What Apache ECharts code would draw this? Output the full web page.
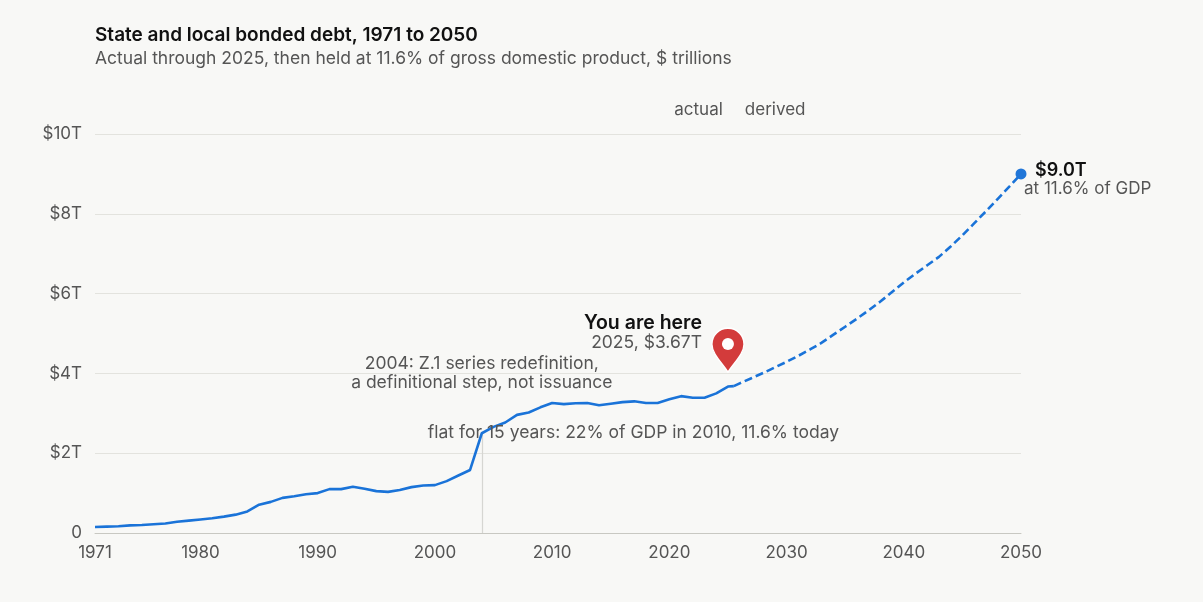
<!DOCTYPE html>
<html>
<head>
<meta charset="utf-8">
<script src="https://cdn.jsdelivr.net/npm/echarts@6/dist/echarts.min.js"></script>
<style>
  html, body { margin: 0; padding: 0; background: #f8f8f6; }
  #container { width: 1203px; height: 602px; }
</style>
</head>
<body>
<div id="container"></div>
<script>
// actual series, $ trillions (last point is mid-2025)
var actualYears = [1971, 1972, 1973, 1974, 1975, 1976, 1977, 1978, 1979, 1980,
    1981, 1982, 1983, 1984, 1985, 1986, 1987, 1988, 1989, 1990,
    1991, 1992, 1993, 1994, 1995, 1996, 1997, 1998, 1999, 2000,
    2001, 2002, 2003, 2004, 2005, 2006, 2007, 2008, 2009, 2010,
    2011, 2012, 2013, 2014, 2015, 2016, 2017, 2018, 2019, 2020,
    2021, 2022, 2023, 2024, 2025, 2025.5];
var actualValues = [0.15, 0.16, 0.17, 0.19, 0.20, 0.22, 0.24, 0.28, 0.31, 0.34,
    0.37, 0.41, 0.46, 0.54, 0.71, 0.78, 0.88, 0.92, 0.97, 1.00,
    1.10, 1.10, 1.16, 1.11, 1.05, 1.03, 1.08, 1.15, 1.19, 1.20,
    1.30, 1.44, 1.58, 2.50, 2.66, 2.77, 2.96, 3.02, 3.15, 3.26,
    3.23, 3.25, 3.26, 3.20, 3.24, 3.28, 3.30, 3.26, 3.26, 3.35,
    3.43, 3.39, 3.39, 3.50, 3.67, 3.68];

// derived: held at 11.6% of GDP
var projYears = [2025.5, 2026, 2027, 2028, 2029, 2030, 2031, 2032, 2033, 2034,
    2035, 2036, 2037, 2038, 2039, 2040, 2041, 2042, 2043, 2044,
    2045, 2046, 2047, 2048, 2049, 2050];
var projValues = [3.68, 3.75, 3.88, 4.01, 4.15, 4.29, 4.44, 4.60, 4.77, 4.97,
    5.17, 5.37, 5.58, 5.80, 6.04, 6.28, 6.50, 6.71, 6.92, 7.18,
    7.46, 7.76, 8.06, 8.37, 8.68, 9.00];

var xTicks = [1971, 1980, 1990, 2000, 2010, 2020, 2030, 2040, 2050];
var splitYear = 2025.5;
var breakYear = 2004;
var hereYear = 2025;

function pairs(xs, ys) {
    return xs.map(function (x, i) { return [x, ys[i]]; });
}

var FONT = 'Inter, "Noto Sans", sans-serif';
var BLUE = '#1a73d8';
var PIN = 'path://M15 42 C9 33 0 25 0 16 C0 7.5 6.7 1 15 1 C23.3 1 30 7.5 30 16 C30 25 21 33 15 42 Z';

var hereValue = actualValues[actualYears.indexOf(hereYear)];
var breakValue = actualValues[actualYears.indexOf(breakYear)];

var dom = document.getElementById("container");
var myChart = echarts.init(dom);

var option = {
    backgroundColor: '#f8f8f6',
    animation: false,
    textStyle: { fontFamily: FONT },
    title: {
        text: 'State and local bonded debt, 1971 to 2050',
        subtext: 'Actual through 2025, then held at 11.6% of gross domestic product, $ trillions',
        left: 90,
        top: 21,
        itemGap: 5,
        textStyle: { fontFamily: FONT, fontSize: 19, fontWeight: 600, color: '#111' },
        subtextStyle: { fontFamily: FONT, fontSize: 17.5, color: '#555' }
    },
    grid: { left: 95, right: 182, top: 134, bottom: 69 },
    xAxis: {
        type: 'value',
        min: 1971,
        max: 2050,
        axisLine: { lineStyle: { color: '#c8c8c2', width: 1 } },
        axisTick: { show: false },
        splitLine: { show: false },
        axisLabel: {
            customValues: xTicks,
            color: '#555',
            fontSize: 17,
            fontFamily: FONT,
            margin: 11,
            formatter: function (v) { return String(v); }
        }
    },
    yAxis: {
        type: 'value',
        min: 0,
        max: 10,
        interval: 2,
        axisLine: { show: false },
        axisTick: { show: false },
        splitLine: { lineStyle: { color: '#e3e3de', width: 1 } },
        axisLabel: {
            color: '#555',
            fontSize: 17,
            fontFamily: FONT,
            margin: 13,
            formatter: function (v) { return v === 0 ? '0' : '$' + v + 'T'; }
        }
    },
    series: [
        {
            name: 'actual',
            type: 'line',
            data: pairs(actualYears, actualValues),
            symbol: 'none',
            lineStyle: { color: BLUE, width: 2.6 },
            z: 5,
            markLine: {
                silent: true,
                symbol: 'none',
                label: { show: false },
                data: [
                    [{ coord: [splitYear, 0], lineStyle: { color: '#b8b8b4', type: [4, 4], width: 1.2 } },
                     { coord: [splitYear, 10.3] }],
                    [{ coord: [breakYear, 0], lineStyle: { color: '#d6d6d2', type: 'solid', width: 1.2 } },
                     { coord: [breakYear, breakValue] }]
                ]
            },
            markPoint: {
                silent: true,
                label: { show: false },
                data: [
                    {
                        coord: [hereYear, hereValue],
                        symbol: PIN,
                        symbolSize: [32, 44],
                        symbolOffset: [0, -36.5],
                        itemStyle: { color: '#d33b3b', borderColor: '#fff', borderWidth: 1.5 }
                    },
                    {
                        coord: [hereYear, hereValue],
                        symbol: 'circle',
                        symbolSize: 12,
                        symbolOffset: [0, -42.5],
                        itemStyle: { color: '#fff' }
                    }
                ]
            }
        },
        {
            name: 'derived',
            type: 'line',
            data: pairs(projYears, projValues),
            symbol: 'none',
            lineStyle: { color: BLUE, width: 2.6, type: [8, 4] },
            z: 5
        },
        {
            name: 'end',
            type: 'scatter',
            data: [[projYears[projYears.length - 1], projValues[projValues.length - 1]]],
            symbolSize: 11,
            itemStyle: { color: '#2176d8', opacity: 1 },
            z: 6
        }
    ]
};
myChart.setOption(option, true);

// annotation text placed from data coordinates
function px(x, y) { return myChart.convertToPixel({ gridIndex: 0 }, [x, y]); }
function txt(p, dx, dy, text, size, color, align, weight) {
    return {
        type: 'text',
        x: p[0] + dx,
        y: p[1] + dy,
        style: {
            text: text,
            font: (weight || 'normal') + ' ' + size + 'px ' + FONT,
            fill: color,
            align: align,
            verticalAlign: 'middle'
        },
        z: 20
    };
}

var lastY = projValues[projValues.length - 1];
var pTop = px(splitYear, 10.3);
var pHere = px(hereYear, hereValue);
var pEnd = px(projYears[projYears.length - 1], lastY);
var pBreak = px(breakYear, breakValue);

myChart.setOption({
    graphic: [
        txt(pTop, -11, -12, 'actual', 17, '#555', 'right'),
        txt(pTop, 11, -12, 'derived', 17, '#555', 'left'),
        txt(pEnd, 14, -3, '$' + lastY.toFixed(1) + 'T', 18, '#111', 'left', '600'),
        txt(pEnd, 3, 15, 'at 11.6% of GDP', 17, '#555', 'left'),
        txt(pHere, -26, -63, 'You are here', 19.5, '#111', 'right', '600'),
        txt(pHere, -26, -44, '2025, $' + hereValue.toFixed(2) + 'T', 17.5, '#555', 'right'),
        txt(pBreak, 0, -70, '2004: Z.1 series redefinition,', 17.5, '#555', 'center'),
        txt(pBreak, 0, -51, 'a definitional step, not issuance', 17.5, '#555', 'center'),
        txt(pBreak, -54, -1, 'flat for 15 years: 22% of GDP in 2010, 11.6% today', 17.5, '#555', 'left')
    ]
});
</script>
</body>
</html>
